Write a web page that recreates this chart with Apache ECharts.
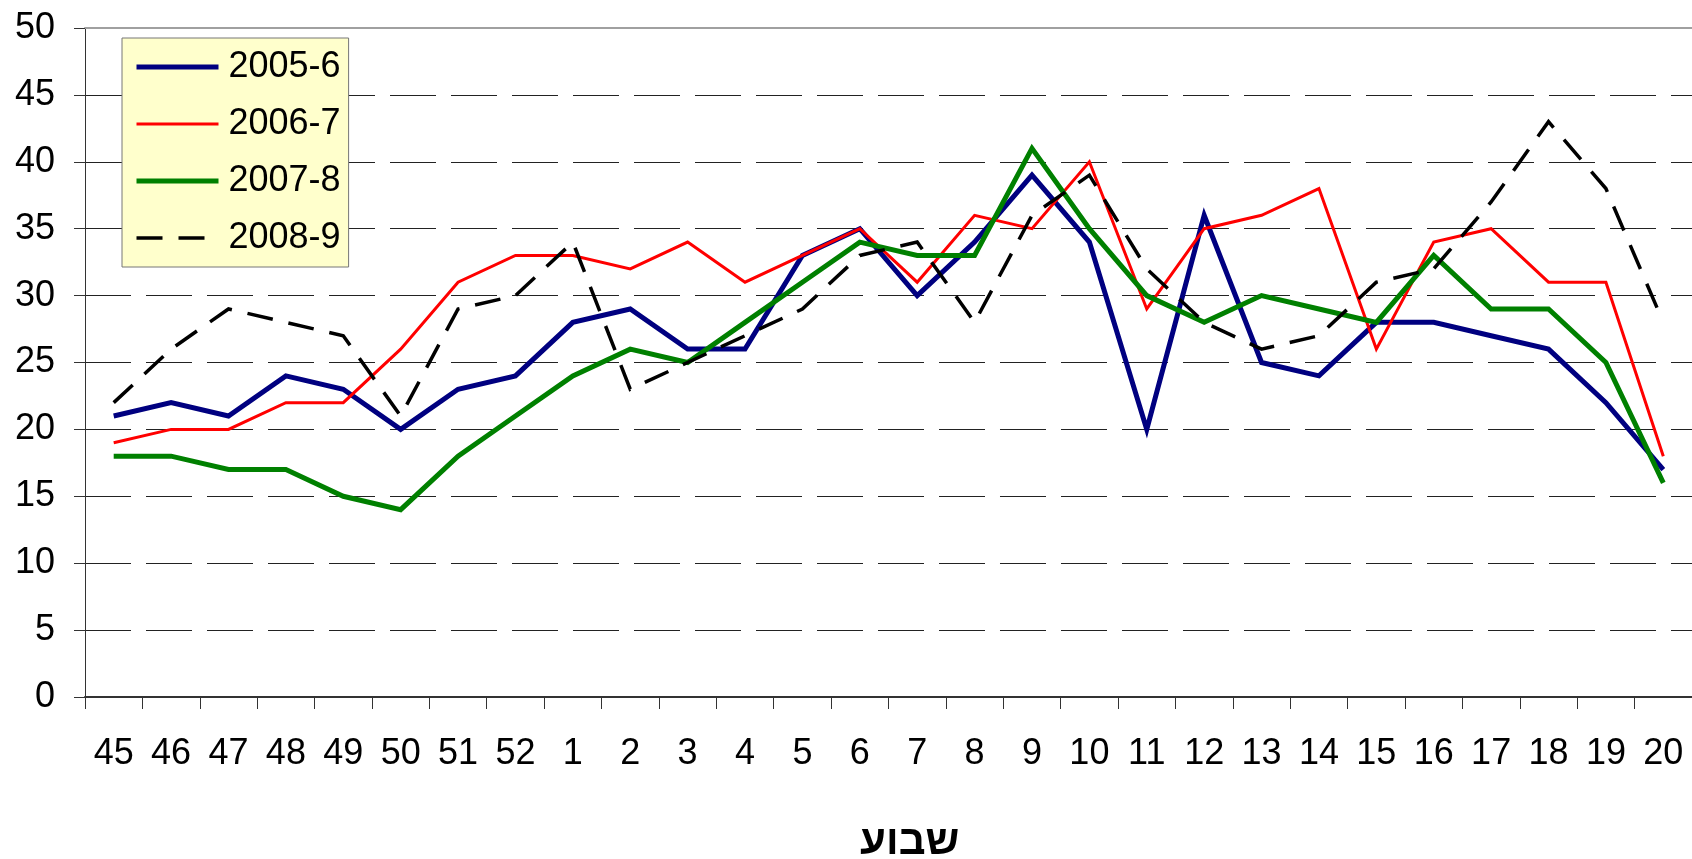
<!DOCTYPE html>
<html>
<head>
<meta charset="utf-8">
<script src="https://cdn.jsdelivr.net/npm/echarts@6/dist/echarts.min.js"></script>
<style>
html,body{margin:0;padding:0;background:#fff;}
#chart{width:1692px;height:859px;}
</style>
</head>
<body>
<div id="chart"></div>
<script>
const weeks = ['45','46','47','48','49','50','51','52','1','2','3','4','5','6','7','8','9','10','11','12','13','14','15','16','17','18','19','20'];
const s2005 = [21,22,21,24,23,20,23,24,28,29,26,26,33,35,30,34,39,34,20,36,25,24,28,28,27,26,22,17];
const s2006 = [19,20,20,22,22,26,31,33,33,32,34,31,33,35,31,36,35,40,29,35,36,38,26,34,35,31,31,18];
const s2007 = [18,18,17,17,15,14,18,21,24,26,25,28,31,34,33,33,41,35,30,28,30,29,28,33,29,29,25,16];
const s2008 = [22,26,29,28,27,21,29,30,34,23,25,27,29,33,34,28,36,39,32,28,26,27,31,32,37,43,38,28];
const seriesNames = ['2005-6','2006-7','2007-8','2008-9'];
const xTitle = 'שבוע';

const FONT = '"Liberation Sans", Arial, "DejaVu Sans", sans-serif';
const chart = echarts.init(document.getElementById('chart'), null, {renderer:'canvas'});
const baseLine = (color, width, type) => ({
  type:'line', symbol:'none', smooth:false,
  lineStyle:{color:color, width:width, type:type||'solid', join:'miter', cap:'butt'},
  itemStyle:{color:color}
});
chart.setOption({
  animation:false,
  textStyle:{fontFamily:FONT},
  grid:{left:85, right:0, top:28, bottom:162},
  legend:{
    orient:'vertical', left:122, top:38,
    backgroundColor:'#FFFFCC', borderColor:'#777', borderWidth:1,
    padding:[9,8,9,12], itemWidth:82, itemHeight:14, itemGap:17,
    itemStyle:{opacity:0},
    lineStyle:{width:'inherit', type:'inherit'},
    textStyle:{fontSize:36, lineHeight:40, color:'#000', fontFamily:FONT, padding:[0,0,0,5]},
    data:seriesNames
  },
  xAxis:[{
    type:'category', data:weeks, boundaryGap:true,
    axisLine:{lineStyle:{color:'#333', width:2}},
    axisTick:{show:true, length:12, lineStyle:{color:'#333', width:1}},
    axisLabel:{fontSize:36, color:'#000', margin:39, interval:0, fontFamily:FONT},
    splitLine:{show:false}
  },{
    type:'category', data:weeks, position:'top', boundaryGap:true,
    axisLine:{show:true, lineStyle:{color:'#A0A0A0', width:2}},
    axisTick:{show:false}, axisLabel:{show:false}, splitLine:{show:false}
  }],
  yAxis:{
    type:'value', min:0, max:50, interval:5,
    axisLine:{show:true, lineStyle:{color:'#333', width:1}},
    axisTick:{show:true, length:11, lineStyle:{color:'#333'}},
    axisLabel:{fontSize:36, color:'#000', margin:30, fontFamily:FONT},
    splitLine:{show:true, lineStyle:{color:'#222', width:1, type:[46,15]}}
  },
  graphic:[{
    type:'text', left:860, top:821,
    style:{text:xTitle, font:'bold 42px ' + FONT, fill:'#000'}
  }],
  series:[
    Object.assign(baseLine('#000080',5), {name:seriesNames[0], data:s2005}),
    Object.assign(baseLine('#FF0000',3), {name:seriesNames[1], data:s2006}),
    Object.assign(baseLine('#008000',5), {name:seriesNames[2], data:s2007}),
    Object.assign(baseLine('#000000',3.5,[26,16]), {name:seriesNames[3], data:s2008})
  ]
});
</script>
</body>
</html>
